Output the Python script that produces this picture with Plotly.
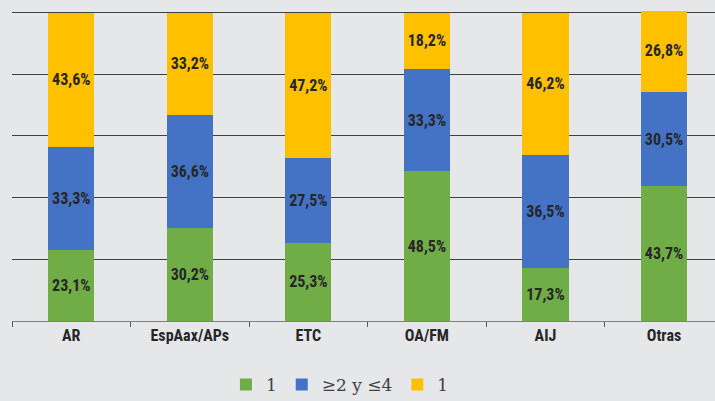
import plotly.graph_objects as go

categories = ["AR", "EspAax/APs", "ETC", "OA/FM", "AIJ", "Otras"]
series_names = ["1", "≥2 y ≤4", "1 "]
vals_green = [23.1, 30.2, 25.3, 48.5, 17.3, 43.7]
vals_blue = [33.3, 36.6, 27.5, 33.3, 36.5, 30.5]
vals_yellow = [43.6, 33.2, 47.2, 18.2, 46.2, 26.8]
colors = ["#70ad47", "#4472c4", "#ffc000"]

narrow = "Liberation Sans Narrow, Roboto Condensed, Roboto"
label_font = dict(family=narrow, size=16, color="#262626", weight="bold")

fig = go.Figure()
for name, vals, col in zip(series_names, [vals_green, vals_blue, vals_yellow], colors):
    fig.add_trace(go.Bar(
        x=categories, y=vals, name=name, marker=dict(color=col, line=dict(width=0)),
        text=[f"{v:.1f}%".replace(".", ",") for v in vals],
        textposition="inside", insidetextanchor="middle", textangle=0,
        insidetextfont=label_font, hoverinfo="skip",
    ))

fig.update_layout(
    barmode="stack",
    bargap=0.61,
    width=715, height=401,
    margin=dict(l=12, r=0, t=11, b=80, autoexpand=False),
    paper_bgcolor="#e6e7e9",
    plot_bgcolor="#e6e7e9",
    showlegend=True,
    legend=dict(orientation="h", x=0.47, xanchor="center", yref="container", y=0.04, yanchor="middle",
                font=dict(family="DejaVu Serif", size=17, color="#404040"),
                itemwidth=30, traceorder="normal", bgcolor="rgba(0,0,0,0)"),
    uniformtext=dict(mode=False),
)
fig.update_xaxes(
    range=[-0.5, 5.43], showgrid=False, showline=True, linecolor="#7f7f7f", linewidth=1,
    ticks="outside", tickson="boundaries", ticklen=5, tickcolor="#595959",
    tickfont=dict(family=narrow, size=16, color="#262626", weight="bold"),
)
fig.update_yaxes(
    range=[0, 100.5], tickvals=[0, 20, 40, 60, 80, 100], showgrid=True, gridcolor="#404040", gridwidth=1,
    showticklabels=False, zeroline=False, showline=False,
)
fig.write_html("out.html", config={"displayModeBar": False},
               post_script="document.body.style.margin='0';document.body.style.overflow='hidden';")
